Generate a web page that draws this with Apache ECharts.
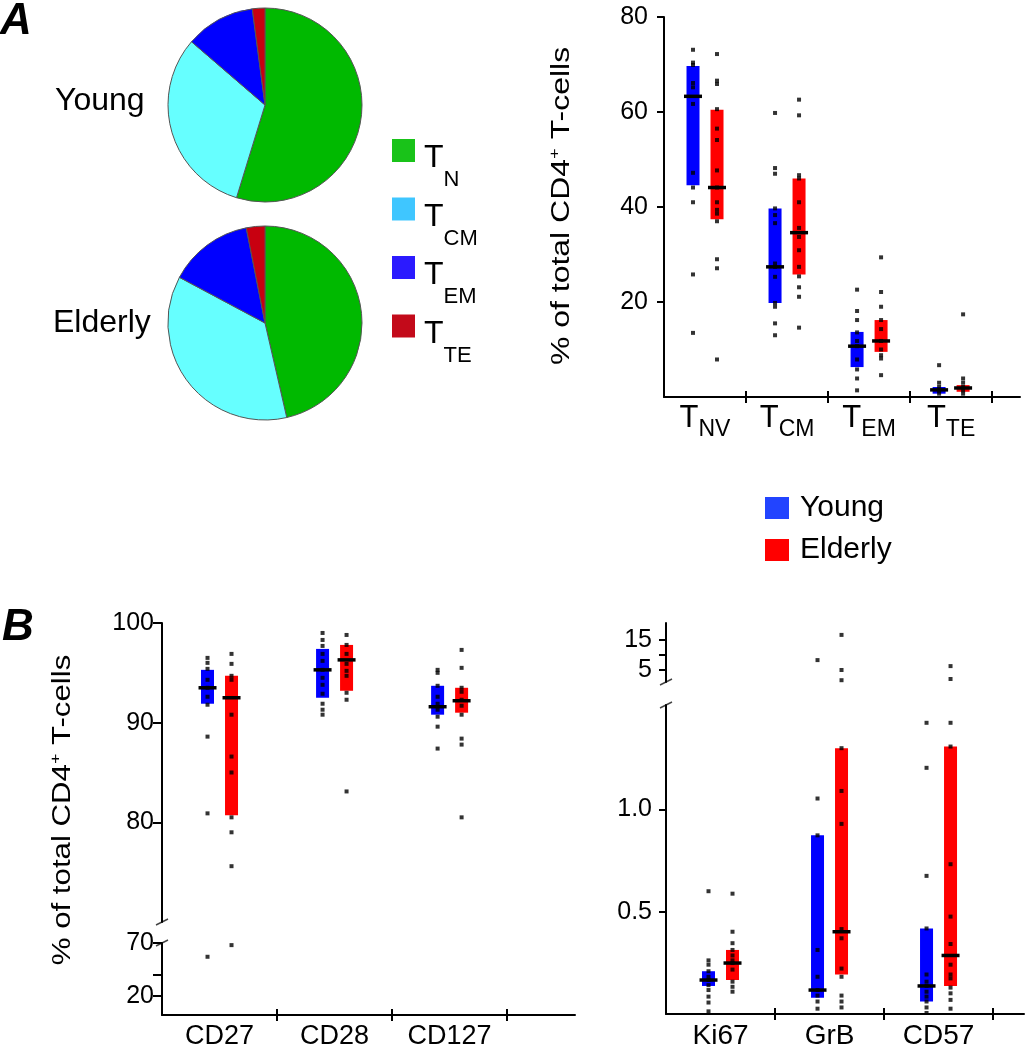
<!DOCTYPE html>
<html><head><meta charset="utf-8">
<script src="https://cdn.jsdelivr.net/npm/echarts@6/dist/echarts.min.js"></script>
<style>html,body{margin:0;padding:0;background:#fff}#c{width:1026px;height:1050px}</style>
</head><body><div id="c"></div>
<script>
// ---------- DATA ----------
// Panel A pies (percent of CD4+ T cells)
const pieCategories = ['N', 'CM', 'EM', 'TE'];
const pieYoung = [54.8, 31.6, 11.6, 2.1];
const pieElderly = [46.4, 36.4, 14.1, 3.1];

// Panel A subsets (box: [low, median, high])
const aCategories = ['NV', 'CM', 'EM', 'TE'];
const aYoungBox = [[44.6, 63.3, 69.7], [19.8, 27.4, 39.7], [6.3, 10.7, 13.7], [0.7, 1.5, 2.1]];
const aElderlyBox = [[37.4, 44.1, 60.5], [25.8, 34.6, 46.0], [9.5, 11.8, 16.2], [1.1, 1.9, 2.5]];
const aYoungDots = [
  [73.1, 70.4, 69.9, 66.1, 65.2, 61.7, 47.2, 44.1, 41.0, 25.8, 13.5],
  [59.8, 48.2, 47.0, 39.7, 38.3, 36.6, 28.1, 27.4, 25.3, 19.8, 19.0, 15.5, 13.0],
  [22.6, 18.1, 16.2, 13.6, 11.8, 10.7, 7.9, 5.8, 3.9, 1.4],
  [6.7, 3.0, 2.1, 1.4, 0.7]];
const aElderlyDots = [
  [72.2, 66.6, 65.9, 60.6, 56.5, 54.1, 47.7, 44.1, 41.0, 39.4, 38.6, 37.0, 29.0, 27.1, 7.9],
  [62.6, 59.3, 46.7, 46.0, 41.0, 35.6, 33.7, 30.9, 27.4, 25.4, 23.1, 21.1, 14.6],
  [29.4, 22.1, 19.0, 16.2, 14.3, 11.8, 10.0, 8.8, 8.1, 4.6],
  [17.4, 3.9, 3.0, 2.1, 1.4, 0.7]];

// Panel B left (surface markers)
const bSurfCategories = ['CD27', 'CD28', 'CD127'];
const bSurfYoungBox = [[91.9, 93.5, 95.3], [92.5, 95.3, 97.4], [90.8, 91.6, 93.7]];
const bSurfElderlyBox = [[80.7, 92.5, 94.7], [93.2, 96.3, 97.8], [91.0, 92.2, 93.5]];
const bSurfYoungDots = [
  [96.5, 96.0, 95.4, 94.3, 93.5, 92.6, 91.8, 88.6, 80.9, 57],
  [99.0, 98.3, 97.7, 96.9, 96.2, 95.3, 94.5, 93.8, 92.9, 91.9, 91.3, 90.8],
  [95.3, 95.0, 93.7, 92.6, 91.9, 91.3, 90.6, 89.6, 87.4]];
const bSurfElderlyDots = [
  [96.9, 95.9, 94.7, 94.3, 90.8, 86.6, 85.0, 80.5, 79.0, 75.6, 68],
  [98.8, 97.8, 96.9, 95.9, 95.2, 94.7, 93.0, 92.3, 83.1],
  [97.3, 95.5, 93.5, 93.1, 92.3, 91.7, 90.8, 88.4, 87.8, 80.5]];

// Panel B right (functional markers)
const bFuncCategories = ['Ki67', 'GrB', 'CD57'];
const bFuncYoungBox = [[0.137, 0.166, 0.209], [0.080, 0.117, 0.873], [0.061, 0.137, 0.418]];
const bFuncElderlyBox = [[0.166, 0.249, 0.313], [0.193, 0.402, 1.299], [0.137, 0.286, 1.307]];
const bFuncYoungDots = [
  [0.600, 0.262, 0.241, 0.209, 0.182, 0.166, 0.141, 0.117, 0.085, 0.056, 0.013],
  [8.3, 1.053, 0.873, 0.313, 0.182, 0.117, 0.090, 0.061, 0.026],
  [1.423, 1.203, 0.675, 0.418, 0.193, 0.158, 0.137, 0.109, 0.085, 0.061, 0.032, 0.005]];
const bFuncElderlyDots = [
  [0.588, 0.402, 0.346, 0.313, 0.286, 0.262, 0.249, 0.217, 0.158, 0.133, 0.109],
  [16.7, 5.0, 1.6, 1.299, 1.09, 0.929, 0.415, 0.370, 0.222, 0.182, 0.090, 0.061, 0.032],
  [6.3, 2.0, 1.423, 1.307, 0.732, 0.476, 0.342, 0.241, 0.193, 0.174, 0.129, 0.101, 0.069, 0.026]];

// Tick values
const aYTicks = [20, 40, 60, 80];
const bSurfTopTicks = [80, 90, 100];
const bSurfBotTicks = [20, 40, 70];
const bSurfBotLabels = [20, 70];
const bFuncTopTicks = [5, 10, 15];
const bFuncTopLabels = [5, 15];
const bFuncBotTicks = [0.5, 1.0];

// ---------- STYLE ----------
const FONT = '"Liberation Sans", Arial, Helvetica, sans-serif';
const PIE_COLORS = ['#00b900', '#66ffff', '#0000ff', '#c80010'];
const PIE_LEGEND_COLORS = ['#19c319', '#3fc6ff', '#2b1aff', '#c30a1a'];
const GROUP_COLORS = {Young: '#0000ff', Elderly: '#ff0000'};
const GROUP_LEGEND_COLORS = {Young: '#2244ff', Elderly: '#ff0000'};
const BAR_W = 13, MED_W = 18, MED_H = 3.5, OFFSET = 12;

const chart = echarts.init(document.getElementById('c'), null, {renderer: 'canvas'});

const grids = [
  {left: 664, top: 17, width: 356, height: 380},
  {left: 162, top: 623, width: 413, height: 299},
  {left: 162, top: 943, width: 413, height: 73},
  {left: 666, top: 623, width: 358, height: 59},
  {left: 666, top: 705, width: 358, height: 311}
];

const axLine = {show: true, onZero: false, lineStyle: {color: '#000', width: 2}};
const tickStyle = {color: '#000', width: 2};
const subRich = {
  t: {fontSize: 31, lineHeight: 30, verticalAlign: 'top', fontFamily: FONT, color: '#000'},
  s: {fontSize: 23, lineHeight: 22, verticalAlign: 'top', padding: [15, 0, 0, 0], fontFamily: FONT, color: '#000'}
};

function xShown(gi, max, cats, rich, fontSize) {
  const n = cats.length;
  const ticks = [], labels = [];
  for (let i = 1; i <= n; i++) ticks.push(i);
  for (let i = 0; i < n; i++) labels.push(i + 0.5);
  return [{
    gridIndex: gi, type: 'value', min: 0, max: max, position: 'bottom',
    axisLine: axLine, splitLine: {show: false},
    axisTick: {show: true, customValues: ticks, length: 6, lineStyle: tickStyle},
    axisLabel: {
      customValues: labels, margin: rich ? 6 : 8, fontSize: fontSize, fontFamily: FONT, color: '#000',
      formatter: v => { const c = cats[Math.floor(v)]; return rich ? '{t|T}{s|' + c + '}' : c; },
      rich: rich ? subRich : undefined
    }
  }, {
    gridIndex: gi, type: 'value', min: 0, max: max, position: 'bottom',
    axisLine: {show: false}, splitLine: {show: false},
    axisTick: {show: true, inside: true, customValues: ticks, length: 6, lineStyle: tickStyle},
    axisLabel: {show: false}
  }];
}
function xHidden(gi, max) {
  return {gridIndex: gi, type: 'value', min: 0, max: max, show: false};
}
function yAx(gi, min, max, ticks, labels, len, margin, fmt) {
  return {
    gridIndex: gi, type: 'value', min: min, max: max,
    axisLine: axLine, splitLine: {show: false},
    axisTick: {show: true, customValues: ticks, length: len, lineStyle: tickStyle},
    axisLabel: {customValues: labels, margin: margin, fontSize: 25, fontFamily: FONT, color: '#000',
      formatter: fmt || (v => String(v))}
  };
}

const xAxes = [];
const xa0 = xShown(0, 4.34, aCategories, true, 30);
const xb2 = xShown(2, 3.59, bSurfCategories, false, 27);
const xb4 = xShown(4, 3.284, bFuncCategories, false, 28);
xAxes.push(xa0[0], xHidden(1, 3.59), xb2[0], xHidden(3, 3.284), xb4[0], xa0[1], xb2[1], xb4[1]);

const yAxes = [
  yAx(0, 0, 80, aYTicks, aYTicks, 7, 16),
  yAx(1, 70, 100, bSurfTopTicks, bSurfTopTicks, 9, 8),
  yAx(2, 2, 70, bSurfBotTicks, bSurfBotLabels, 9, 8),
  yAx(3, 1, 20.667, bFuncTopTicks, bFuncTopLabels, 7, 14),
  yAx(4, 0, 1.51, bFuncBotTicks, bFuncBotTicks, 7, 14, v => v.toFixed(1))
];

const series = [];
function boxRender(off, color) {
  return (params, api) => {
    const x = api.value(0) + 0.5;
    const pHi = api.coord([x, api.value(3)]);
    const pLo = api.coord([x, api.value(1)]);
    return {type: 'rect', shape: {x: pLo[0] + off - BAR_W / 2, y: pHi[1], width: BAR_W, height: pLo[1] - pHi[1]},
      style: {fill: color}};
  };
}
function medRender(off) {
  return (params, api) => {
    const x = api.value(0) + 0.5;
    const p = api.coord([x, api.value(2)]);
    return {type: 'rect', shape: {x: p[0] + off - MED_W / 2, y: p[1] - MED_H / 2, width: MED_W, height: MED_H},
      style: {fill: '#000'}};
  };
}
function addPanel(boxesByGroup, dotsByGroup, segs) {
  ['Young', 'Elderly'].forEach((g, gi) => {
    const off = gi === 0 ? -OFFSET : OFFSET;
    const boxes = boxesByGroup[gi], dots = dotsByGroup[gi];
    segs.forEach(seg => {
      const inSeg = v => v > seg.lo && v <= seg.hi;
      const bData = [];
      boxes.forEach((b, i) => { if (inSeg(b[0]) && inSeg(b[2])) bData.push([i, b[0], b[1], b[2]]); });
      const dData = [];
      dots.forEach((arr, i) => arr.forEach(v => { if (inSeg(v)) dData.push([i + 0.5, v]); }));
      if (bData.length) {
        series.push({type: 'custom', name: g, xAxisIndex: seg.xi, yAxisIndex: seg.yi, z: 2,
          dimensions: ['x', 'low', 'med', 'high'], encode: {x: 0, y: [1, 2, 3]},
          renderItem: boxRender(off, GROUP_COLORS[g]), data: bData, silent: true});
        series.push({type: 'custom', name: g, xAxisIndex: seg.xi, yAxisIndex: seg.yi, z: 4,
          dimensions: ['x', 'low', 'med', 'high'], encode: {x: 0, y: [1, 2, 3]},
          renderItem: medRender(off), data: bData, silent: true});
      }
      if (dData.length) {
        series.push({type: 'scatter', name: g, xAxisIndex: seg.xi, yAxisIndex: seg.yi, z: 3,
          symbol: 'rect', symbolSize: [4, 4], symbolOffset: [off, 0],
          itemStyle: {color: '#000'}, data: dData, silent: true});
      }
    });
  });
}
addPanel([aYoungBox, aElderlyBox], [aYoungDots, aElderlyDots], [{xi: 0, yi: 0, lo: -1e9, hi: 1e9}]);
addPanel([bSurfYoungBox, bSurfElderlyBox], [bSurfYoungDots, bSurfElderlyDots],
  [{xi: 1, yi: 1, lo: 70, hi: 100}, {xi: 2, yi: 2, lo: -1e9, hi: 70}]);
addPanel([bFuncYoungBox, bFuncElderlyBox], [bFuncYoungDots, bFuncElderlyDots],
  [{xi: 3, yi: 3, lo: 1.51, hi: 1e9}, {xi: 4, yi: 4, lo: -1e9, hi: 1.51}]);

function pieSeries(center, vals) {
  return {type: 'pie', center: center, radius: 97, startAngle: 90, clockwise: true, silent: true,
    label: {show: false}, labelLine: {show: false},
    itemStyle: {borderColor: '#555', borderWidth: 1},
    data: pieCategories.map((c, i) => ({name: 'T' + c, value: vals[i], itemStyle: {color: PIE_COLORS[i]}}))};
}
series.push(pieSeries([265, 105], pieYoung));
series.push(pieSeries([265, 323], pieElderly));

function txt(x, y, text, size, extra) {
  return Object.assign({type: 'text', x: x, y: y, silent: true,
    style: {text: text, fontSize: size, fontFamily: FONT, fill: '#000', align: 'left', verticalAlign: 'middle'}}, extra || {});
}
function axisTitle(x, y, sx) {
  return {type: 'text', x: x, y: y, rotation: Math.PI / 2, scaleX: sx, silent: true,
    style: {text: '% of total CD4{sup|+} T-cells', fontSize: 26, fontFamily: FONT, fill: '#000',
      lineHeight: 30, align: 'center', verticalAlign: 'middle',
      rich: {sup: {fontSize: 15, lineHeight: 15, verticalAlign: 'top', fontFamily: FONT, fill: '#000'}}}};
}
const breakMarks = [[162, 922], [162, 943], [666, 682], [666, 705]];
const graphics = [
  {type: 'text', x: 0, y: 22, silent: true, style: {text: 'A', fontSize: 44, fontWeight: 'bold', fontStyle: 'italic', fontFamily: FONT, fill: '#000', verticalAlign: 'middle'}},
  {type: 'text', x: 2, y: 628, silent: true, style: {text: 'B', fontSize: 44, fontWeight: 'bold', fontStyle: 'italic', fontFamily: FONT, fill: '#000', verticalAlign: 'middle'}},
  txt(55, 101, 'Young', 32),
  txt(53, 323, 'Elderly', 32),
  axisTitle(562, 206, 1.23),
  axisTitle(63, 810, 1.2)
].concat(breakMarks.map(p => ({type: 'line', silent: true,
  shape: {x1: p[0] - 6, y1: p[1] + 3, x2: p[0] + 6, y2: p[1] - 3},
  style: {stroke: '#444', lineWidth: 1.5}})));

const option = {
  animation: false,
  backgroundColor: '#fff',
  grid: grids,
  xAxis: xAxes,
  yAxis: yAxes,
  legend: [{
    orient: 'vertical', left: 387, top: 129.5, itemWidth: 23, itemHeight: 23, itemGap: 2,
    selectedMode: false, icon: 'rect',
    data: pieCategories.map((c, i) => ({name: 'T' + c, itemStyle: {color: PIE_LEGEND_COLORS[i], borderWidth: 0}})),
    formatter: name => '{t|T}{s|' + name.slice(1) + '}',
    textStyle: {rich: {
      t: {fontSize: 32, lineHeight: 32, verticalAlign: 'top', padding: [8, 0, 0, 4], fontFamily: FONT, color: '#000'},
      s: {fontSize: 22, lineHeight: 2, verticalAlign: 'top', padding: [34.5, 0, 0, 0], fontFamily: FONT, color: '#000'}
    }}
  }, {
    orient: 'vertical', left: 760, top: 488, itemWidth: 24, itemHeight: 22, itemGap: 12,
    selectedMode: false, icon: 'rect',
    data: ['Young', 'Elderly'].map(g => ({name: g, itemStyle: {color: GROUP_LEGEND_COLORS[g], borderWidth: 0}})),
    formatter: name => '{n|' + name + '}',
    textStyle: {rich: {n: {fontSize: 30, lineHeight: 30, padding: [0, 0, 0, 6], fontFamily: FONT, color: '#000'}}}
  }],
  graphic: graphics,
  series: series
};
chart.setOption(option);
</script></body></html>
